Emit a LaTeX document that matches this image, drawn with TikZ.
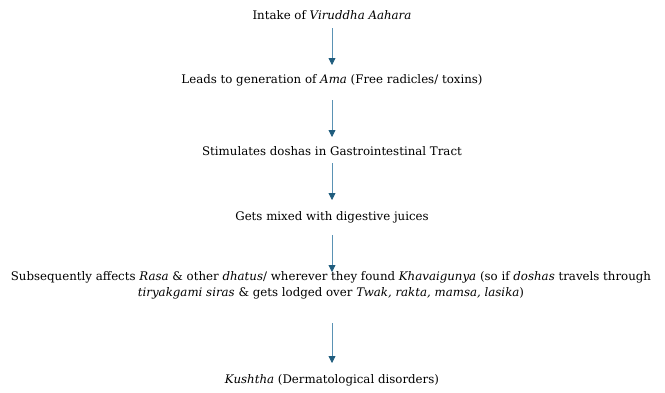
\documentclass[tikz,border=0pt]{standalone}
\usepackage{fontspec}
\setmainfont{DejaVu Serif}
\usetikzlibrary{arrows.meta}
\definecolor{shaftblue}{HTML}{5A92B4}
\definecolor{headblue}{HTML}{1F5C7D}
\tikzset{
  stage/.style={font=\fontsize{11.8}{16}\selectfont, inner sep=0pt, align=center},
  flow/.style={draw=shaftblue, line width=0.8pt,
    -{Triangle[length=7pt,width=7pt,color=headblue]}}
}
\begin{document}
\begin{tikzpicture}[x=1pt,y=1pt]
  \useasboundingbox (0,0) rectangle (665,-392);

  % The stages of the pathway
  \node[stage] (intake) at (332,-15) {Intake of \textit{Viruddha Aahara}};
  \node[stage] (ama) at (332,-80) {Leads to generation of \textit{Ama} (Free radicles/ toxins)};
  \node[stage] (doshas) at (332,-151) {Stimulates doshas in Gastrointestinal Tract};
  \node[stage] (juices) at (332,-217) {Gets mixed with digestive juices};
  \node[stage] (dhatus) at (331,-285.5) {Subsequently affects \textit{Rasa} \& other \textit{dhatus}/ wherever they found \textit{Khavaigunya} (so if \textit{doshas} travels through\\
    \textit{tiryakgami siras} \& gets lodged over \textit{Twak, rakta, mamsa, lasika})};
  \node[stage] (kushtha) at (332,-380) {\textit{Kushtha} (Dermatological disorders)};

  % Arrows between the stages
  \draw[flow] ([yshift=-13pt]intake.center) -- ([yshift=15pt]ama.center);
  \draw[flow] ([yshift=-20pt]ama.center) -- ([yshift=14pt]doshas.center);
  \draw[flow] ([yshift=-12pt]doshas.center) -- ([yshift=17pt]juices.center);
  \draw[flow] ([yshift=-18pt]juices.center) -- ([yshift=13.5pt]juices.center |- dhatus.center);
  \draw[flow] ([yshift=-37.5pt]kushtha.center |- dhatus.center) -- ([yshift=17pt]kushtha.center);
\end{tikzpicture}
\end{document}
